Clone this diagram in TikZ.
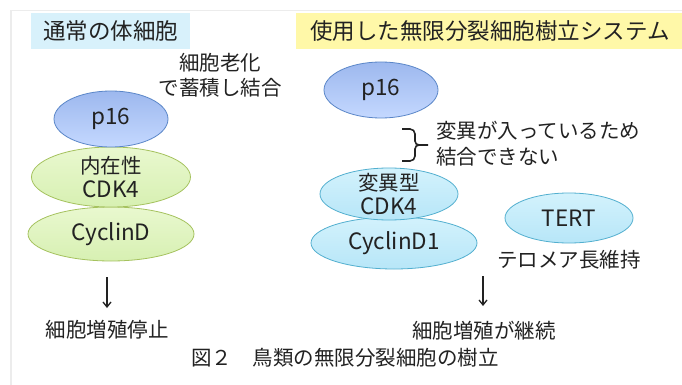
\documentclass[tikz,border=0pt]{standalone}
\usepackage{fontspec}
\setmainfont{Noto Sans CJK JP}
\usetikzlibrary{shapes.geometric,arrows.meta}
\definecolor{frameg}{HTML}{ECECEC}
\definecolor{titleblue}{HTML}{D8F1FB}
\definecolor{titleyel}{HTML}{FFF8A8}
\definecolor{bluetop}{HTML}{9DB8EE}
\definecolor{bluebot}{HTML}{C4D8FF}
\definecolor{blueedge}{HTML}{5A86C8}
\definecolor{greentop}{HTML}{E9F8CF}
\definecolor{greenbot}{HTML}{D7F0B2}
\definecolor{greenedge}{HTML}{A5C25E}
\definecolor{cyantop}{HTML}{D3F2FC}
\definecolor{cyanbot}{HTML}{B7E6F8}
\definecolor{cyanedge}{HTML}{52AFCF}
\definecolor{ink}{HTML}{222222}
\newcommand{\latn}[1]{{\fontsize{22.5}{24}\selectfont #1}}
\tikzset{
  x=1pt,y=-1pt,
  body/.style={font=\fontsize{20.5}{25}\selectfont, text=ink, inner sep=0pt, align=center},
  titletxt/.style={font=\fontsize{22.5}{26}\selectfont, text=ink},
  blob/.style={ellipse, draw, line width=0.8pt, inner sep=0pt},
  blueblob/.style={blob, draw=blueedge, top color=bluetop, bottom color=bluebot},
  greenblob/.style={blob, draw=greenedge, top color=greentop, bottom color=greenbot},
  cyanblob/.style={blob, draw=cyanedge, top color=cyantop, bottom color=cyanbot},
  downarrow/.style={-{Straight Barb[length=5pt,width=8pt]}, line width=1.3pt, ink},
}
\begin{document}
\begin{tikzpicture}
\useasboundingbox[fill=white] (0,0) rectangle (682,385);
% faint frame
\draw[frameg, line width=1.5pt] (11,385) -- (11,10.5) -- (682,10.5);
% titles
\fill[titleblue] (31,13) rectangle (190,49);
\node[titletxt] (tL) at (110.5,31) {通常の体細胞};
\fill[titleyel] (296,13) rectangle (682,49);
\node[titletxt] (tR) at (490,31) {使用した無限分裂細胞樹立システム};
% left column
\node[body] (senes) at (220,75) {細胞老化\\で蓄積し結合};
\node[greenblob, minimum width=166pt, minimum height=54pt] (cycD) at (111,234) {};
\node[body] (cycDt) at (cycD) {\latn{CyclinD}};
\node[greenblob, minimum width=159pt, minimum height=60pt] (cdk4) at (111,177) {};
\node[body, font=\fontsize{20.5}{24}\selectfont] (cdk4t) at (cdk4) {内在性\\\latn{CDK4}};
\node[blueblob, minimum width=114pt, minimum height=56pt] (p16L) at (111,119) {};
\node[body] (p16Lt) at (p16L) {\latn{p16}};
\coordinate (a1s) at (107,277);
\coordinate (a1e) at (107,308);
\draw[downarrow] (a1s) -- (a1e);
\node[body] (stop) at (107,330) {細胞増殖停止};
% right column
\node[blueblob, minimum width=114pt, minimum height=56pt] (p16R) at (381,90) {};
\node[body] (p16Rt) at (p16R) {\latn{p16}};
\draw[ink, line width=1.6pt] (402,129) -- (410,129) to[out=0,in=90] (415,134) -- (415,141)
  to[out=-90,in=180] (419,145) -- (428,145);
\draw[ink, line width=1.6pt] (419,145) to[out=180,in=90] (415,149) -- (415,156)
  to[out=-90,in=0] (410,161) -- (402,161);
\node[body, align=left, anchor=west, font=\fontsize{20.5}{26}\selectfont] (mut) at (436,144) {変異が入っているため\\結合できない};
\node[cyanblob, minimum width=166pt, minimum height=52pt] (cycD1) at (394,243) {};
\node[body] (cycD1t) at (cycD1) {\latn{CyclinD1}};
\node[cyanblob, minimum width=138pt, minimum height=52pt] (cdk4m) at (389,194) {};
\node[body, font=\fontsize{20.5}{24}\selectfont] (cdk4mt) at (cdk4m) {変異型\\\latn{CDK4}};
\node[cyanblob, minimum width=128pt, minimum height=50pt] (tert) at (569,218) {};
\node[body] (tertt) at (tert) {\latn{TERT}};
\node[body] (telo) at (569,260) {テロメア長維持};
\coordinate (a2s) at (483,276);
\coordinate (a2e) at (483,306);
\draw[downarrow] (a2s) -- (a2e);
\node[body] (cont) at (484,331) {細胞増殖が継続};
% caption
\node[body] (cap) at (345,358) {図２　鳥類の無限分裂細胞の樹立};
\end{tikzpicture}
\end{document}
